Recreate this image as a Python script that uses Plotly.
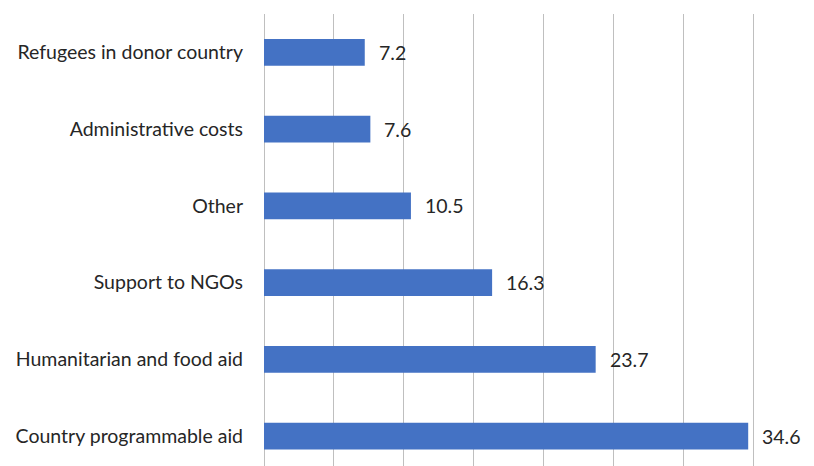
import plotly.graph_objects as go

categories = ["Country programmable aid", "Humanitarian and food aid", "Support to NGOs",
              "Other", "Administrative costs", "Refugees in donor country"]
values = [34.6, 23.7, 16.3, 10.5, 7.6, 7.2]
labels = ["34.6", "23.7", "16.3", "10.5", "7.6", "7.2"]

FONT = "Lato"
TXT = "#262626"
SIZE = 19.5

fig = go.Figure()
fig.add_trace(go.Bar(
    x=values, y=categories, orientation="h",
    marker=dict(color="#4472C4", line=dict(width=0)),
    width=0.35, hoverinfo="skip",
))
for c, v, t in zip(categories, values, labels):
    fig.add_annotation(x=v, y=c, text=t, showarrow=False, xanchor="left",
                       xshift=12, font=dict(family=FONT, size=SIZE, color=TXT))

fig.update_layout(
    width=814, height=466,
    margin=dict(l=264, r=56, t=14, b=0),
    paper_bgcolor="white", plot_bgcolor="white",
    showlegend=False,
    xaxis=dict(range=[0, 35.3], dtick=5, tick0=0, showgrid=True, gridcolor="#BFBFBF", gridwidth=1,
               showticklabels=False, zeroline=True, zerolinecolor="#BFBFBF", zerolinewidth=1,
               showline=False, fixedrange=True),
    yaxis=dict(range=[-0.39, 5.5], showgrid=False, zeroline=False, showline=False,
               ticks="", ticklabelstandoff=20, automargin=False,
               tickfont=dict(family=FONT, size=SIZE, color=TXT)),
    font=dict(family=FONT, color=TXT),
)
fig.write_html("out.html")
